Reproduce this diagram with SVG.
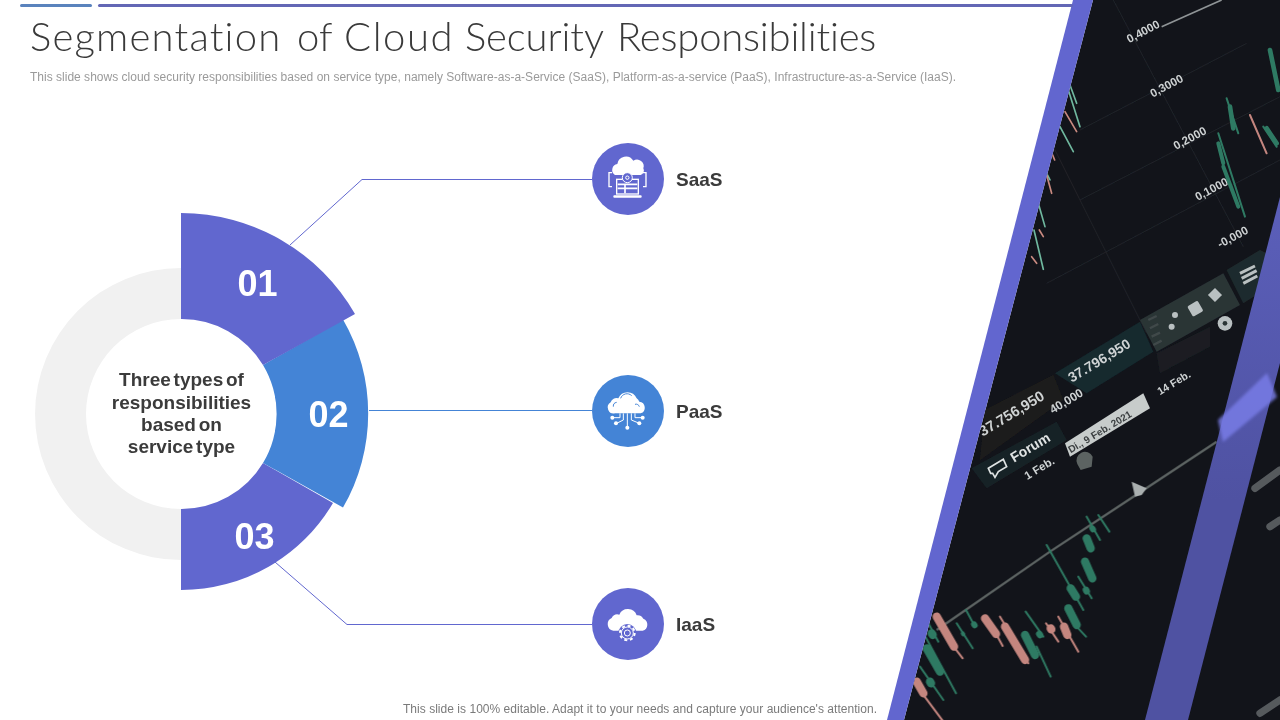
<svg xmlns="http://www.w3.org/2000/svg" width="1280" height="720" viewBox="0 0 1280 720">
<style>
.t{font-family:"Liberation Sans",Arial,sans-serif}
.num{font-family:"Liberation Sans",Arial,sans-serif;font-weight:700;font-size:36px;fill:#fff;text-anchor:middle}
.ctr{font-family:"Liberation Sans",Arial,sans-serif;font-weight:700;font-size:19px;fill:#3b3b3b;text-anchor:middle;word-spacing:-2.5px}
.lbl{font-family:"Liberation Sans",Arial,sans-serif;font-weight:700;font-size:19px;fill:#3b3b3b}
.conn{fill:none;stroke-width:1}
.w{fill:none;stroke:#fff;stroke-width:4}
.wf{fill:#fff}
.ph{font-family:"Liberation Sans",Arial,sans-serif;font-weight:700;fill:#cfd3d4}
.wick{fill:none;stroke-width:6;stroke-linecap:round}
.body{fill:none;stroke-width:25;stroke-linecap:round}
.g{stroke:#2f7a63}
.p{stroke:#c4867f}
.gs{stroke:#6fb89f}
.ps{stroke:#c98a80}
.gl{stroke:#1f2329;stroke-width:3;fill:none}
</style>
<defs>
<clipPath id="photo"><polygon points="1093,0 1280,0 1280,720 904,720"/></clipPath>
<linearGradient id="band2" gradientUnits="userSpaceOnUse" x1="0" y1="197" x2="0" y2="500"><stop offset="0" stop-color="#5b5fba"/><stop offset="1" stop-color="#4f52a2"/></linearGradient>
<filter id="b1" x="-20%" y="-20%" width="140%" height="140%"><feGaussianBlur stdDeviation="0.7"/></filter>
<filter id="b2" x="-20%" y="-20%" width="140%" height="140%"><feGaussianBlur stdDeviation="1.2"/></filter>
<filter id="b3" x="-30%" y="-30%" width="160%" height="160%"><feGaussianBlur stdDeviation="1.5"/></filter>
</defs>
<rect width="1280" height="720" fill="#fff"/>

<g id="photo-panel">
<polygon points="1093,0 1280,0 1280,720 904,720" fill="#12141a"/>
<g clip-path="url(#photo)">
<g transform="translate(880,0) scale(0.3333)" filter="url(#b1)">
<path class="gl" d="M500,850 L1200,480 M600,600 L1200,290 M600,390 L1100,130 M700,0 L1090,740 M520,440 L800,1000"/>
<path d="M845,80 L1025,0" stroke="#8f9496" stroke-width="5" fill="none"/>
<g class="ph" font-size="35">
<text transform="translate(748,130) rotate(-28)">0,4000</text>
<text transform="translate(818,293) rotate(-28)">0,3000</text>
<text transform="translate(888,450) rotate(-28)">0,2000</text>
<text transform="translate(953,603) rotate(-28)">0,1000</text>
<text transform="translate(1020,745) rotate(-28)">-0,000</text>
</g>
<g class="wick g"><path d="M1015,400 L1095,650"/><path d="M1040,295 L1075,400"/><path d="M1150,380 L1190,440"/></g>
<g fill="none" stroke-width="5" stroke-linecap="round">
<g class="gs"><path d="M565,270 L600,380"/><path d="M540,380 L580,455"/><path d="M475,610 L495,680"/><path d="M462,690 L490,808"/><path d="M500,520 L510,540"/><path d="M570,255 L590,310"/></g>
<g class="ps"><path d="M555,335 L590,395"/><path d="M500,525 L515,580"/><path d="M455,770 L470,790"/><path d="M478,690 L490,710"/><path d="M518,465 L524,480"/></g>
</g>
<g class="body g"><path d="M1030,500 L1075,620" stroke-width="12"/><path d="M1015,430 L1030,490" stroke-width="12"/><path d="M1050,320 L1060,385" stroke-width="14"/><path d="M1170,150 L1195,270" stroke-width="14"/><path d="M1160,385 L1190,430" stroke-width="14"/></g>
<path class="wick p" d="M1110,345 L1160,460" stroke-width="14"/>
</g>
<g transform="translate(960,240) scale(0.3333)" filter="url(#b1)">
<polygon points="75,510 280,405 310,480 60,660" fill="#1f1d1b"/>
<polygon points="285,400 540,245 580,335 380,460" fill="#14292e"/>
<polygon points="540,240 790,100 840,195 590,335" fill="#2a3436"/>
<polygon points="590,340 750,260 750,320 600,400" fill="#1a1f22"/>
<polygon points="800,90 900,30 960,60 960,120 850,190" fill="#1f2a2d"/>
<polygon points="35,685 290,545 320,600 80,745" fill="#172226"/>
<polygon points="315,610 550,460 570,505 330,650" fill="#c7cccb"/>
<g fill="#b9c0c1">
<circle cx="645" cy="225" r="9"/><circle cx="635" cy="260" r="9"/>
<rect x="688" y="188" width="36" height="36" rx="5" transform="rotate(-30 706 206)"/>
<rect x="750" y="150" width="30" height="30" transform="rotate(45 765 165)"/>
<circle cx="795" cy="250" r="22"/>
<path d="M840,100 L885,78 M845,115 L890,92 M850,130 L892,108" stroke="#b9c0c1" stroke-width="9" fill="none"/>
</g>
<circle cx="795" cy="250" r="7" fill="#2a3436"/>
<path d="M565,240 L590,228 M570,265 L595,252 M575,290 L600,278 M580,315 L605,302" stroke="#40494a" stroke-width="7" fill="none"/>
<g class="ph">
<text font-size="44" transform="translate(68,590) rotate(-31)">37.756,950</text>
<text font-size="42" transform="translate(335,428) rotate(-31)">37.796,950</text>
<text font-size="36" transform="translate(278,522) rotate(-31)">40,000</text>
<text font-size="42" transform="translate(162,668) rotate(-31)" fill="#dfe3e3">Forum</text>
<text font-size="34" transform="translate(202,720) rotate(-31)">1 Feb.</text>
<text font-size="32" transform="translate(600,466) rotate(-31)">14 Feb.</text>
<text font-size="30" transform="translate(332,640) rotate(-31)" fill="#3c4042">Di., 9 Feb. 2021</text>
</g>
<path d="M85,685 L130,658 L140,680 L115,695 L105,712 L98,700 L92,700 Z" fill="none" stroke="#dfe3e3" stroke-width="5"/>
<path d="M352,672 A25,25 0 0 1 398,650 L395,680 L362,690 Z" fill="#5c6362"/>
</g>
<g transform="translate(880,360) scale(0.3333)" filter="url(#b1)">
<path d="M170,810 L510,575 L760,410 L1010,245" stroke="#5c6362" stroke-width="7" fill="none"/>
<path d="M755,365 L800,385 L785,405 L765,410 Z" fill="#aab0b0"/>
<g class="wick g">
<path d="M145,790 L175,845"/><path d="M120,800 L228,1000"/><path d="M120,920 L190,1020"/><path d="M230,790 L278,865"/><path d="M258,750 L285,800"/><path d="M437,755 L490,830"/><path d="M470,860 L512,950"/><path d="M500,555 L610,750"/><path d="M590,800 L618,830"/><path d="M595,650 L635,715"/><path d="M620,470 L660,540"/><path d="M655,465 L688,515"/>
</g>
<g class="body g">
<path d="M140,865 L180,935"/><path d="M155,820 L158,825"/><path d="M150,965 L153,970"/><path d="M248,820 L250,823" stroke-width="12"/><path d="M282,793 L284,796" stroke-width="18"/><path d="M435,825 L465,885"/><path d="M478,822 L480,825" stroke-width="20"/><path d="M565,745 L590,795"/><path d="M572,685 L588,710"/><path d="M618,690 L620,694" stroke-width="20"/><path d="M615,605 L637,655"/><path d="M620,535 L632,565"/><path d="M637,505 L639,508" stroke-width="18"/>
</g>
<g class="wick p">
<path d="M225,865 L248,895"/><path d="M130,1005 L190,1085"/><path d="M350,825 L368,858"/><path d="M360,770 L445,910"/><path d="M498,790 L535,845"/><path d="M535,770 L595,875"/>
</g>
<g class="body p">
<path d="M170,770 L222,860"/><path d="M110,965 L130,1000"/><path d="M315,775 L348,822"/><path d="M375,800 L435,900"/><path d="M512,805 L514,808"/><path d="M552,800 L562,825"/>
</g>
<g stroke="#8e9496" stroke-width="22" stroke-linecap="round" filter="url(#b2)" opacity=".55"><path d="M1125,385 L1200,330"/><path d="M1170,500 L1200,480"/><path d="M1140,1060 L1200,1020"/></g>
</g>
</g>
</g>
<g id="bands">
<polygon points="1073,0 1093,0 904,720 887,720" fill="#6266cf"/>
<polygon points="1280,197 1280,363 1188,720 1145,720" fill="url(#band2)"/>
<g clip-path="url(#photo)"><polygon points="1218,420 1267,373 1277,397 1223,442" fill="#787ce6" opacity=".85" filter="url(#b3)"/></g>
</g>

<g id="header">
<rect x="20" y="4" width="72" height="3" rx="1.5" fill="#5a83bd"/>
<rect x="98" y="4" width="975" height="3" rx="1.5" fill="#6367b5"/>
<text y="51" font-family="Lato,'Liberation Sans',sans-serif" font-weight="300" font-size="40" fill="#3a3a3a" style="font-variant-ligatures:none"><tspan x="30" letter-spacing="1.2">Segmentation </tspan><tspan x="297" letter-spacing="0">of </tspan><tspan x="344" letter-spacing="1.6">Cloud </tspan><tspan x="465" letter-spacing="-0.1">Security </tspan><tspan x="617" letter-spacing="-0.2">Responsibilities</tspan></text>
<text x="30" y="81" class="t" font-size="12" fill="#9a9a9a" textLength="926" lengthAdjust="spacing">This slide shows cloud security responsibilities based on service type, namely Software-as-a-Service (SaaS), Platform-as-a-service (PaaS), Infrastructure-as-a-Service (IaaS).</text>
</g>

<g id="connectors">
<path class="conn" stroke="#6167cf" d="M290,245 L362,179.5 L592,179.5"/>
<path class="conn" stroke="#4484d6" d="M369,410.5 L592,410.5"/>
<path class="conn" stroke="#6167cf" d="M275,562 L347,624.5 L592,624.5"/>
</g>

<g id="hub">
<path d="M181,268 A146,146 0 0 0 181,560 L181,509 A95,95 0 0 1 181,319 Z" fill="#f1f1f1"/>
<text class="ctr" x="181.5" y="386">Three types of</text>
<text class="ctr" x="181.5" y="409">responsibilities</text>
<text class="ctr" x="181.5" y="431">based on</text>
<text class="ctr" x="181.5" y="453">service type</text>
</g>
<g id="segment-03">
<path d="M181,590 A176,176 0 0 0 333,503 L263,463 A95,95 0 0 1 181,509 Z" fill="#6167cf"/>
<text class="num" x="254.5" y="549">03</text>
</g>
<g id="segment-02">
<path d="M343,319.5 A188,188 0 0 1 343,507.5 L263,463 A95,95 0 0 0 263,365 Z" fill="#4484d6"/>
<text class="num" x="328.5" y="427">02</text>
</g>
<g id="segment-01">
<path d="M181,213 A201,201 0 0 1 355,314 L263,365 A95,95 0 0 0 181,319 Z" fill="#6167cf"/>
<text class="num" x="257.5" y="296">01</text>
</g>

<g id="node-saas">
<circle cx="628" cy="179" r="36" fill="#6167cf"/>
<g transform="translate(580,130) scale(0.3333)">
<path class="wf" d="M105,135 A18,18 0 0 1 112,102 A26,26 0 0 1 160,92 A20,20 0 0 1 190,115 A14,14 0 0 1 182,135 Z"/>
<rect x="110" y="148" width="65" height="44" fill="#6167cf" stroke="#fff" stroke-width="4"/>
<path d="M113,163 H172 M113,175 H172 M135,163 V190" stroke="#fff" stroke-width="5" fill="none"/>
<rect x="100" y="196" width="85" height="7" rx="3" fill="#fff"/>
<circle cx="142" cy="143" r="15" fill="#6167cf" stroke="#fff" stroke-width="3"/>
<circle cx="142" cy="143" r="5" fill="none" stroke="#fff" stroke-width="3"/>
<path class="w" d="M96,128 H87 V170 H96 M189,128 H198 V170 H189"/>
</g>
<text class="lbl" x="676" y="186">SaaS</text>
</g>
<g id="node-paas">
<circle cx="628" cy="411" r="36" fill="#4484d6"/>
<g transform="translate(580,365) scale(0.3333)">
<path class="wf" d="M105,145 A18,18 0 0 1 92,112 A18,18 0 0 1 115,100 A30,30 0 0 1 170,100 A22,22 0 0 1 178,110 A18,18 0 0 1 182,145 Z"/>
<path d="M100,125 A12,12 0 0 1 110,112 M122,100 A20,20 0 0 1 155,92 M165,118 A10,10 0 0 1 178,125" stroke="#4484d6" stroke-width="3" fill="none"/>
<path d="M142,145 V188 M130,145 V165 L110,175 M154,145 V165 L178,175 M120,145 V158 H97 M165,145 V158 H188" stroke="#fff" stroke-width="3" fill="none"/>
<g class="wf"><circle cx="142" cy="188" r="6"/><circle cx="108" cy="175" r="6"/><circle cx="178" cy="175" r="6"/><circle cx="97" cy="158" r="6"/><circle cx="188" cy="158" r="6"/></g>
</g>
<text class="lbl" x="676" y="418">PaaS</text>
</g>
<g id="node-iaas">
<circle cx="628" cy="624" r="36" fill="#6167cf"/>
<g transform="translate(580,578) scale(0.3333)">
<path class="wf" d="M100,158 A20,20 0 0 1 95,120 A20,20 0 0 1 118,110 A28,28 0 0 1 170,112 A20,20 0 0 1 190,122 A19,19 0 0 1 188,158 Z"/>
<circle cx="142" cy="165" r="27" fill="#6167cf"/>
<circle cx="142" cy="165" r="22" fill="none" stroke="#fff" stroke-width="6" stroke-dasharray="9 8.3"/>
<circle cx="142" cy="165" r="18" fill="#6167cf" stroke="#fff" stroke-width="3"/>
<circle cx="142" cy="165" r="9" fill="none" stroke="#fff" stroke-width="3"/>
</g>
<text class="lbl" x="676" y="631">IaaS</text>
</g>

<text id="footer" x="403" y="713" class="t" font-size="12" fill="#7a7a7a" textLength="474" lengthAdjust="spacing">This slide is 100% editable. Adapt it to your needs and capture your audience's attention.</text>
</svg>
